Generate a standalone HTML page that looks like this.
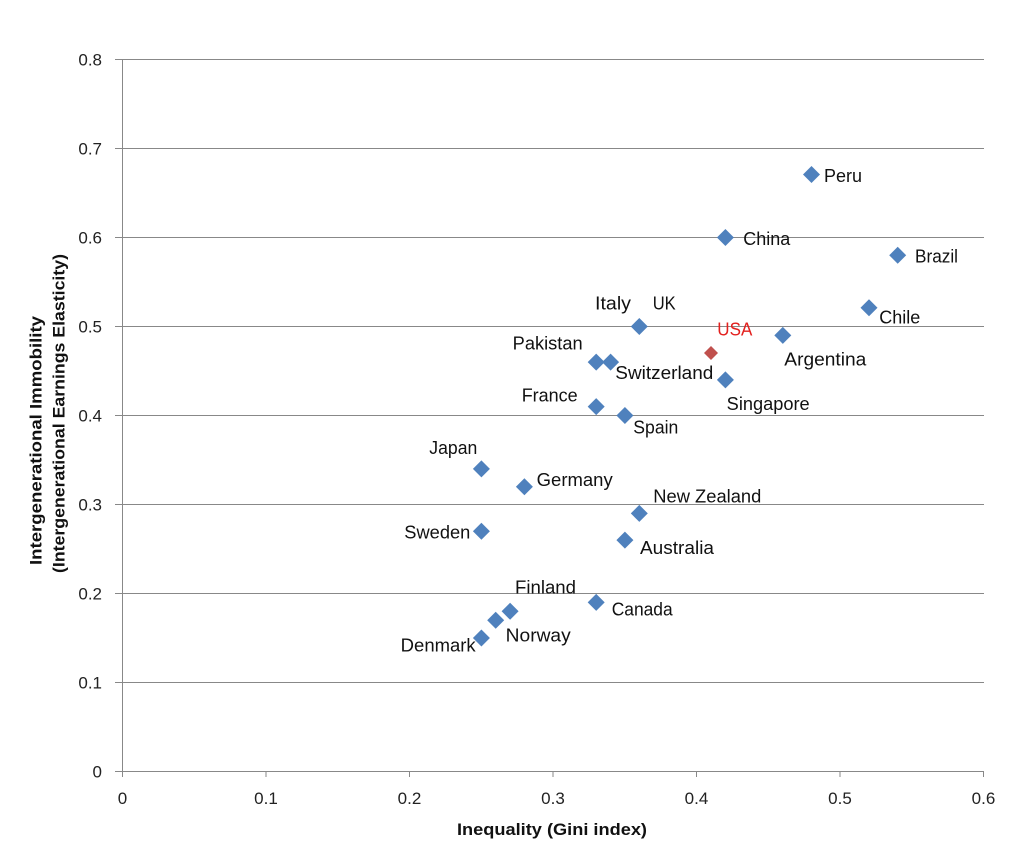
<!DOCTYPE html>
<html>
<head>
<meta charset="utf-8">
<style>
  html, body { margin: 0; padding: 0; background: #ffffff; }
  svg { display: block; }
  text { font-family: "Liberation Sans", "DejaVu Sans", sans-serif; }
</style>
</head>
<body>
<svg width="1016" height="862" viewBox="0 0 1016 862" xmlns="http://www.w3.org/2000/svg">
  <rect x="0" y="0" width="1016" height="862" fill="#ffffff"/>

  <!-- gridlines with left ticks -->
  <g stroke="#888888" stroke-width="1" fill="none">
    <line x1="115" y1="59.5" x2="984" y2="59.5"/>
    <line x1="115" y1="148.5" x2="984" y2="148.5"/>
    <line x1="115" y1="237.5" x2="984" y2="237.5"/>
    <line x1="115" y1="326.5" x2="984" y2="326.5"/>
    <line x1="115" y1="415.5" x2="984" y2="415.5"/>
    <line x1="115" y1="504.5" x2="984" y2="504.5"/>
    <line x1="115" y1="593.5" x2="984" y2="593.5"/>
    <line x1="115" y1="682.5" x2="984" y2="682.5"/>
    <line x1="115" y1="771.5" x2="984" y2="771.5"/>
    <!-- y axis -->
    <line x1="122.5" y1="59" x2="122.5" y2="777"/>
    <!-- x ticks -->
    <line x1="266" y1="771" x2="266" y2="777"/>
    <line x1="409.5" y1="771" x2="409.5" y2="777"/>
    <line x1="553" y1="771" x2="553" y2="777"/>
    <line x1="696.5" y1="771" x2="696.5" y2="777"/>
    <line x1="840" y1="771" x2="840" y2="777"/>
    <line x1="983.5" y1="771" x2="983.5" y2="777"/>
  </g>

  <!-- y tick labels -->
  <g font-size="17" fill="#222222" text-anchor="end">
    <text x="102" y="65.5">0.8</text>
    <text x="102" y="154.5">0.7</text>
    <text x="102" y="243.5">0.6</text>
    <text x="102" y="332.5">0.5</text>
    <text x="102" y="421.5">0.4</text>
    <text x="102" y="510.5">0.3</text>
    <text x="102" y="599.5">0.2</text>
    <text x="102" y="688.5">0.1</text>
    <text x="102" y="777.5">0</text>
  </g>

  <!-- x tick labels -->
  <g font-size="17" fill="#222222" text-anchor="middle">
    <text x="122.5" y="804">0</text>
    <text x="266" y="804">0.1</text>
    <text x="409.5" y="804">0.2</text>
    <text x="553" y="804">0.3</text>
    <text x="696.5" y="804">0.4</text>
    <text x="840" y="804">0.5</text>
    <text x="983.5" y="804">0.6</text>
  </g>

  <!-- axis titles -->
  <text x="457" y="835" font-size="17" font-weight="bold" fill="#111111" textLength="190" lengthAdjust="spacingAndGlyphs">Inequality (Gini index)</text>
  <text transform="translate(41.5,565) rotate(-90)" x="0" y="0" font-size="17" font-weight="bold" fill="#111111" textLength="249" lengthAdjust="spacingAndGlyphs">Intergenerational Immobility</text>
  <text transform="translate(64.5,573) rotate(-90)" x="0" y="0" font-size="17" font-weight="bold" fill="#111111" textLength="319" lengthAdjust="spacingAndGlyphs">(Intergenerational Earnings Elasticity)</text>

  <!-- markers -->
  <g fill="#4f81bd">
    <!-- Peru 0.48,0.67 -->
    <polygon points="811.5,166 820,174.5 811.5,183 803,174.5"/>
    <!-- China 0.42,0.60 -->
    <polygon points="725.4,229 733.9,237.5 725.4,246 716.9,237.5"/>
    <!-- Brazil 0.54,0.58 -->
    <polygon points="897.7,246.8 906.2,255.3 897.7,263.8 889.2,255.3"/>
    <!-- Chile 0.52,0.52 -->
    <polygon points="869,299.2 877.5,307.7 869,316.2 860.5,307.7"/>
    <!-- UK/Italy 0.36,0.50 -->
    <polygon points="639.3,318 647.8,326.5 639.3,335 630.8,326.5"/>
    <!-- Argentina 0.46,0.49 -->
    <polygon points="782.8,326.9 791.3,335.4 782.8,343.9 774.3,335.4"/>
    <!-- Pakistan 0.33,0.46 -->
    <polygon points="596.2,353.6 604.7,362.1 596.2,370.6 587.7,362.1"/>
    <!-- Switzerland 0.34,0.46 -->
    <polygon points="610.6,353.6 619.1,362.1 610.6,370.6 602.1,362.1"/>
    <!-- Singapore 0.42,0.44 -->
    <polygon points="725.4,371.4 733.9,379.9 725.4,388.4 716.9,379.9"/>
    <!-- France 0.33,0.41 -->
    <polygon points="596.2,398.1 604.7,406.6 596.2,415.1 587.7,406.6"/>
    <!-- Spain 0.35,0.40 -->
    <polygon points="624.9,407 633.4,415.5 624.9,424 616.4,415.5"/>
    <!-- Japan 0.25,0.34 -->
    <polygon points="481.4,460.4 489.9,468.9 481.4,477.4 472.9,468.9"/>
    <!-- Germany 0.28,0.32 -->
    <polygon points="524.4,478.2 532.9,486.7 524.4,495.2 515.9,486.7"/>
    <!-- New Zealand 0.36,0.29 -->
    <polygon points="639.3,504.9 647.8,513.4 639.3,521.9 630.8,513.4"/>
    <!-- Sweden 0.25,0.27 -->
    <polygon points="481.4,522.7 489.9,531.2 481.4,539.7 472.9,531.2"/>
    <!-- Australia 0.35,0.26 -->
    <polygon points="624.9,531.6 633.4,540.1 624.9,548.6 616.4,540.1"/>
    <!-- Canada 0.33,0.19 -->
    <polygon points="596.2,593.9 604.7,602.4 596.2,610.9 587.7,602.4"/>
    <!-- Finland 0.27,0.18 -->
    <polygon points="510.1,602.8 518.6,611.3 510.1,619.8 501.6,611.3"/>
    <!-- Norway 0.26,0.17 -->
    <polygon points="495.7,611.7 504.2,620.2 495.7,628.7 487.2,620.2"/>
    <!-- Denmark 0.25,0.15 -->
    <polygon points="481.4,629.5 489.9,638 481.4,646.5 472.9,638"/>
  </g>
  <!-- USA 0.41,0.47 -->
  <polygon points="711,346 718,353 711,360 704,353" fill="#c0504d"/>

  <!-- data labels -->
  <g font-size="18" fill="#111111">
    <text x="824" y="182" textLength="38" lengthAdjust="spacingAndGlyphs">Peru</text>
    <text x="743.3" y="245" textLength="47" lengthAdjust="spacingAndGlyphs">China</text>
    <text x="915" y="262.3" textLength="43" lengthAdjust="spacingAndGlyphs">Brazil</text>
    <text x="879.3" y="323.3" textLength="41" lengthAdjust="spacingAndGlyphs">Chile</text>
    <text x="595" y="309.3" textLength="36" lengthAdjust="spacingAndGlyphs">Italy</text>
    <text x="652.7" y="309.3" textLength="23" lengthAdjust="spacingAndGlyphs">UK</text>
    <text x="784.3" y="365.3" textLength="82" lengthAdjust="spacingAndGlyphs">Argentina</text>
    <text x="512.7" y="349.3" textLength="70" lengthAdjust="spacingAndGlyphs">Pakistan</text>
    <text x="615.3" y="379.2" textLength="98" lengthAdjust="spacingAndGlyphs">Switzerland</text>
    <text x="726.7" y="410" textLength="83" lengthAdjust="spacingAndGlyphs">Singapore</text>
    <text x="521.7" y="401.7" textLength="56" lengthAdjust="spacingAndGlyphs">France</text>
    <text x="633.3" y="433.3" textLength="45" lengthAdjust="spacingAndGlyphs">Spain</text>
    <text x="429.3" y="454" textLength="48" lengthAdjust="spacingAndGlyphs">Japan</text>
    <text x="536.7" y="486" textLength="76" lengthAdjust="spacingAndGlyphs">Germany</text>
    <text x="653.3" y="502.7" textLength="108" lengthAdjust="spacingAndGlyphs">New Zealand</text>
    <text x="404.3" y="538.3" textLength="66" lengthAdjust="spacingAndGlyphs">Sweden</text>
    <text x="640" y="554" textLength="74" lengthAdjust="spacingAndGlyphs">Australia</text>
    <text x="515" y="593.3" textLength="61" lengthAdjust="spacingAndGlyphs">Finland</text>
    <text x="611.7" y="615.7" textLength="61" lengthAdjust="spacingAndGlyphs">Canada</text>
    <text x="505.7" y="641.7" textLength="65" lengthAdjust="spacingAndGlyphs">Norway</text>
    <text x="400.7" y="651.7" textLength="75" lengthAdjust="spacingAndGlyphs">Denmark</text>
  </g>
  <text x="717.3" y="335.7" font-size="18" fill="#e3201e" textLength="35" lengthAdjust="spacingAndGlyphs">USA</text>
</svg>
</body>
</html>
